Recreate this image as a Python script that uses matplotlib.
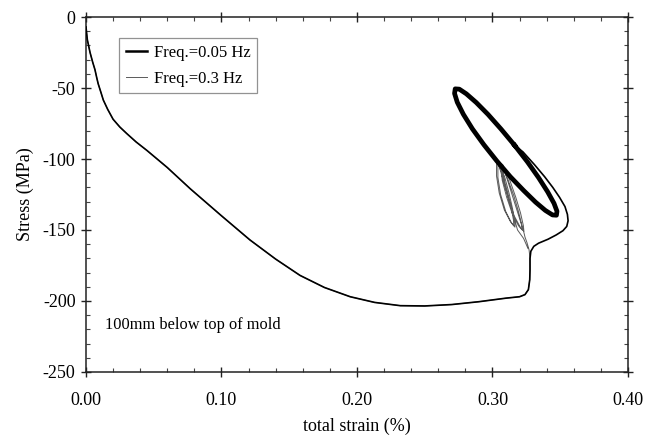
import matplotlib
matplotlib.use('Agg')
import matplotlib.pyplot as plt
from matplotlib.ticker import MultipleLocator

plt.rcParams['font.family'] = ['Liberation Serif', 'DejaVu Serif']
plt.rcParams['axes.unicode_minus'] = False

# monotonic loading path (both frequencies share it)
load_strain = [0.000, 0.001, 0.003, 0.005, 0.0066, 0.008, 0.009, 0.011, 0.0128, 0.016,
               0.020, 0.025, 0.030, 0.037, 0.045, 0.060, 0.077, 0.100, 0.121, 0.140,
               0.158, 0.176, 0.195, 0.213, 0.232, 0.250, 0.270, 0.290, 0.310, 0.320,
               0.324, 0.3265, 0.3275, 0.3277, 0.3277]
load_stress = [-7, -16, -25, -32, -37, -43, -47, -53, -58.5, -65,
               -72, -77.5, -82, -88, -94, -106, -121, -140, -157, -170.5,
               -182, -190.5, -197, -201, -203.3, -203.5, -202.5, -200.5, -198, -197,
               -195.5, -192, -185, -178, -170]

# 0.05 Hz: hook around the loop end before cycling
hook_strain = [0.3283, 0.3305, 0.3340, 0.3410, 0.3470, 0.3520, 0.3548, 0.3558, 0.3553,
               0.3535, 0.3495, 0.3445, 0.3385, 0.3310, 0.3225, 0.3162]
hook_stress = [-165, -161.5, -159.3, -156.5, -153.5, -150.5, -147.5, -143.5, -139,
               -133.5, -127, -120, -112.5, -104, -95, -90.2]

# 0.05 Hz: stabilised cyclic loop
loop_strain = [0.3162, 0.3063, 0.2967, 0.2880, 0.2807, 0.2755, 0.2725, 0.2720, 0.2740,
               0.2785, 0.2852, 0.2937, 0.3033, 0.3132, 0.3230, 0.3318, 0.3390, 0.3443,
               0.3472, 0.3476, 0.3454, 0.3407, 0.3340, 0.3257, 0.3162]
loop_stress = [-90.2, -78.9, -68.6, -60.2, -54.1, -50.8, -50.6, -53.8, -60.0,
               -68.5, -78.8, -90.0, -101.5, -112.5, -122.2, -130.4, -136.2, -139.4,
               -139.6, -136.8, -131.2, -123.1, -113.1, -101.9, -90.2]

# 0.3 Hz: path into the small loops
link_strain = [0.3270, 0.3255, 0.3240, 0.3230]
link_stress = [-164, -159, -155, -151]

loopA_strain = [0.3030, 0.3075, 0.3110, 0.3138, 0.3155, 0.3157, 0.3132, 0.3088, 0.3050, 0.3030, 0.3030]
loopA_stress = [-101, -111, -123, -134, -143, -147, -144, -136, -124, -112, -101]
loopB_strain = [0.3075, 0.3128, 0.3172, 0.3207, 0.3228, 0.3232, 0.3205, 0.3160, 0.3118, 0.3085, 0.3075]
loopB_stress = [-104, -115, -127, -138, -147, -151, -148, -140, -128, -116, -104]
loopA2_strain = [0.3040, 0.3088, 0.3122, 0.3148, 0.3164, 0.3166, 0.3140, 0.3098, 0.3060, 0.3040, 0.3040]
loopA2_stress = [-102, -112, -124, -135, -144, -148, -145, -137, -125, -113, -102]
loopB2_strain = [0.3060, 0.3112, 0.3158, 0.3192, 0.3215, 0.3220, 0.3192, 0.3148, 0.3105, 0.3072, 0.3060]
loopB2_stress = [-103, -114, -126, -137, -146, -150, -147, -139, -127, -115, -103]
back_strain = [0.3185, 0.3230, 0.3262]
back_stress = [-150, -156, -163]

fig = plt.figure(figsize=(6.46, 4.43), dpi=100)
ax = fig.add_axes([0.1331, 0.1603, 0.839, 0.8013])

# 0.3 Hz curve (thin gray)
gx = load_strain + link_strain + loopB_strain + loopA_strain + loopB2_strain + loopA2_strain + back_strain
gy = load_stress + link_stress + loopB_stress + loopA_stress + loopB2_stress + loopA2_stress + back_stress
ax.plot(gx, gy, color='#5a5a5a', lw=0.7, label='Freq.=0.3 Hz', zorder=2)

# 0.05 Hz curve (black)
bx = load_strain + hook_strain
by = load_stress + hook_stress
ax.plot(bx, by, color='black', lw=1.2, zorder=3)
ax.plot(loop_strain, loop_stress, color='black', lw=3.4, solid_joinstyle='round', zorder=3)
ax.plot([], [], color='black', lw=1.8, label='Freq.=0.05 Hz')

ax.set_xlim(0, 0.4)
ax.set_ylim(-250, 0)
ax.xaxis.set_major_locator(MultipleLocator(0.1))
ax.xaxis.set_minor_locator(MultipleLocator(0.02))
ax.yaxis.set_major_locator(MultipleLocator(50))
ax.yaxis.set_minor_locator(MultipleLocator(10))
ax.xaxis.set_major_formatter(plt.FormatStrFormatter('%.2f'))
ax.tick_params(which='major', direction='inout', length=7, width=1, top=True, right=True,
               labelsize=13, color='#222222')
ax.tick_params(which='minor', direction='in', length=3, width=0.8, top=True, right=True,
               color='#444444')
ax.tick_params(axis='x', which='major', pad=11)
ax.tick_params(axis='y', which='major', pad=4)
for s in ax.spines.values():
    s.set_linewidth(1.1)
    s.set_color('#222222')

ax.set_xlabel('total strain (%)', fontsize=13, labelpad=6)
ax.set_ylabel('Stress (MPa)', fontsize=13, labelpad=6)

handles, labels = ax.get_legend_handles_labels()
leg = ax.legend(handles[::-1], labels[::-1], loc='upper left', bbox_to_anchor=(0.061, 0.941),
                borderaxespad=0, fontsize=12, frameon=True, fancybox=False,
                handlelength=1.3, handletextpad=0.4, borderpad=0.4, labelspacing=0.6)
leg.get_frame().set_edgecolor('#777777')
leg.get_frame().set_linewidth(0.9)

ax.text(0.014, -217, '100mm below top of mold', fontsize=11.8, va='center', ha='left')

fig.savefig('out.png', dpi=100)
